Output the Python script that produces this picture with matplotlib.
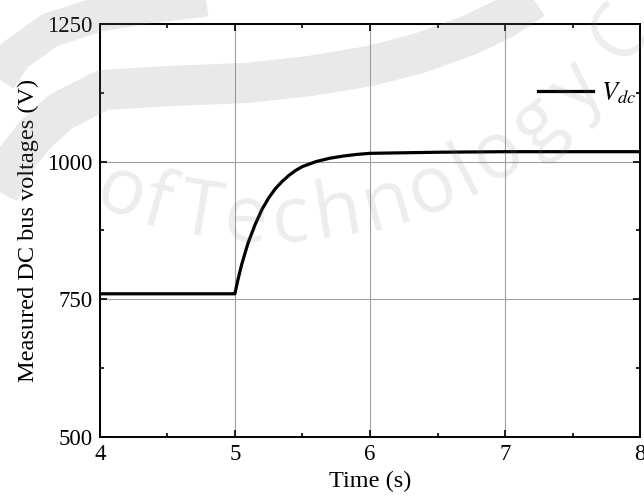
import matplotlib
matplotlib.use("Agg")
import matplotlib.pyplot as plt
import numpy as np

# DC bus voltage step response
time_s = [4.0, 5.0, 5.02, 5.05, 5.08, 5.1, 5.13, 5.15, 5.18, 5.2, 5.25, 5.3, 5.35,
          5.4, 5.45, 5.5, 5.6, 5.7, 5.8, 5.9, 6.0, 6.25, 6.5, 7.0, 7.5, 8.0]
vdc = [760, 760, 783, 813, 838, 854, 873, 886, 902, 913, 934, 951, 964,
       975, 984, 991, 1000, 1006, 1010, 1013, 1015, 1016, 1017, 1018, 1018, 1018]

xticks = [4, 5, 6, 7, 8]
yticks = [500, 750, 1000, 1250]

plt.rcParams['font.family'] = ['Liberation Serif', 'DejaVu Serif']
plt.rcParams['mathtext.fontset'] = 'stix'

fig = plt.figure(figsize=(6.44, 4.98), dpi=100)
ax = fig.add_axes([0.155, 0.1225, 0.839, 0.8295])

ax.plot(time_s, vdc, color='black', lw=2.3, label=r'$V_{dc}$')

ax.set_xlim(4, 8)
ax.set_ylim(500, 1250)
ax.set_xticks(xticks)
ax.set_yticks(yticks)
ax.set_xticks([4.5, 5.5, 6.5, 7.5], minor=True)
ax.set_yticks([625, 875, 1125], minor=True)
ax.grid(True, which='major', color='#a0a0a0', lw=0.8)
ax.tick_params(which='both', direction='in', top=True, right=True, labelsize=16.5)
ax.tick_params(which='major', length=5, width=1.2)
ax.tick_params(which='minor', length=3, width=1.2)
ax.tick_params(axis='x', pad=5)
ax.tick_params(axis='y', pad=5)
for s in ax.spines.values():
    s.set_linewidth(1.4)

ax.set_xlabel('Time (s)', fontsize=17.5, labelpad=4)
ax.set_ylabel('Measured DC bus voltages (V)', fontsize=17.5, labelpad=6)

ax.legend(loc='upper right', frameon=False, fontsize=19, handlelength=2.1,
          handletextpad=0.3, borderaxespad=0.0, borderpad=0.15,
          bbox_to_anchor=(1.0, 0.873))

# faint watermark (seal arcs + text) drawn over the plot
W, H = 644.0, 498.0
bands = [
    ([-5, 15, 35, 60, 103, 170, 246, 310, 370, 420, 470, 505, 535],
     [200, 160, 135, 112, 90, 86, 83, 76, 66, 53, 35, 18, -2], 29),
    ([-5, 15, 50, 100, 150, 200, 245],
     [85, 55, 30, 14, 6, 0, -8], 25),
]
for bx, by, w in bands:
    fx = np.array(bx) / W
    fy = 1 - np.array(by) / H
    fig.add_artist(plt.Line2D(fx, fy, transform=fig.transFigure, color='gray',
                              lw=w, alpha=0.17, solid_capstyle='butt',
                              solid_joinstyle='round', zorder=5))

cx, cy, rt = 270.0, -203.0, 424.0
wm_chars = ['o', 'f', 'T', 'e', 'c', 'h', 'n', 'o', 'l', 'o', 'g', 'y', 'C']
wm_angles = [-110.6, -105.5, -99.5, -93.3, -87.2, -80.8, -74.0, -67.5, -62.5,
             -57.5, -50.8, -43.5, -34.0]
for ch, ang in zip(wm_chars, wm_angles):
    a = np.radians(ang)
    px = cx + rt * np.cos(a)
    py = cy - rt * np.sin(a)
    fig.text(px / W, 1 - py / H, ch, fontsize=56, family='Open Sans', color='gray',
             alpha=0.14, rotation=ang + 90, ha='center', va='center', zorder=6)

fig.savefig('out.png', dpi=100)
